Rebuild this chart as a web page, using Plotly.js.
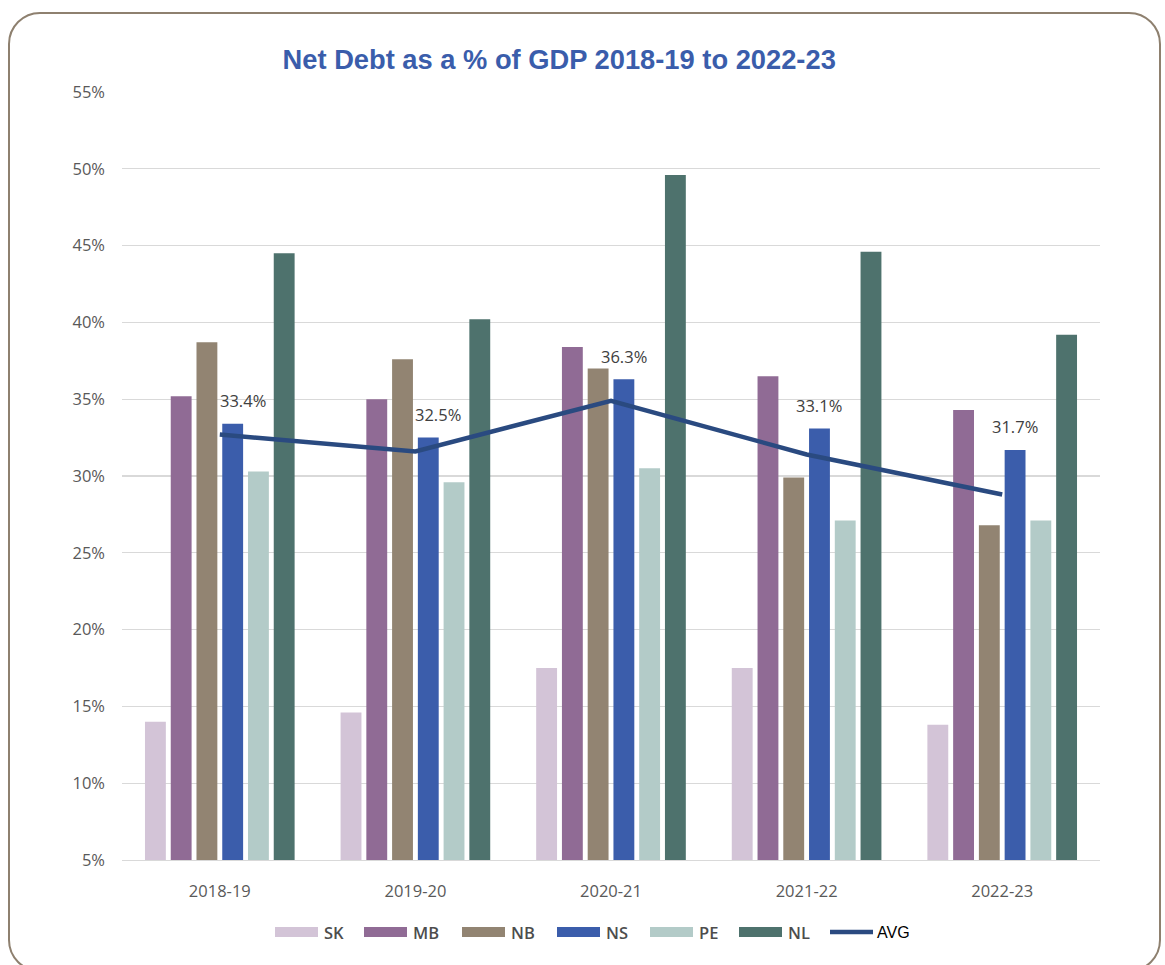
<!DOCTYPE html>
<html>
<head>
<meta charset="utf-8">
<script src="https://cdn.plot.ly/plotly-3.0.1.min.js"></script>
<style>
  html, body { margin: 0; padding: 0; background: #ffffff; }
  #wrap { position: relative; width: 1165px; height: 965px; overflow: hidden; }
  #chart { position: absolute; left: 0; top: 0; width: 1165px; height: 965px; }
  #frame {
    position: absolute; left: 8px; top: 12px; width: 1153px; height: 960px;
    border: 2px solid #8e806f; border-radius: 32px; box-sizing: border-box;
    pointer-events: none;
  }
</style>
</head>
<body>
<div id="wrap">
  <div id="chart"></div>
  <div id="frame"></div>
</div>
<script>
// Fiscal years
const categories = ['2018-19', '2019-20', '2020-21', '2021-22', '2022-23'];

// Net debt as % of GDP by province
const SK = [14.0, 14.6, 17.5, 17.5, 13.8];
const MB = [35.2, 35.0, 38.4, 36.5, 34.3];
const NB = [38.7, 37.6, 37.0, 29.9, 26.8];
const NS = [33.4, 32.5, 36.3, 33.1, 31.7];
const PE = [30.3, 29.6, 30.5, 27.1, 27.1];
const NL = [44.5, 40.2, 49.6, 44.6, 39.2];
const AVG = [32.7, 31.6, 34.9, 31.4, 28.8];

// Y-axis ticks
const yTicks = [5, 10, 15, 20, 25, 30, 35, 40, 45, 50, 55];

const provinces = [
  { name: 'SK', values: SK, color: '#d3c4d7' },
  { name: 'MB', values: MB, color: '#906b95' },
  { name: 'NB', values: NB, color: '#928472' },
  { name: 'NS', values: NS, color: '#3b5dab', labelled: true },
  { name: 'PE', values: PE, color: '#b3cbc8' },
  { name: 'NL', values: NL, color: '#4e726d' }
];
const avgColor = '#2a4a80';
const tickFont = { family: 'Open Sans, sans-serif', size: 16.5, color: '#595959' };

// Plot-area geometry (pixels)
const W = 1165, H = 965;
const M = { l: 122, r: 65, t: 92, b: 105 };
const plotW = W - M.l - M.r, plotH = H - M.t - M.b;
const px2x = px => (px - M.l) / plotW;
const py2y = py => (H - M.b - py) / plotH;
const BARGAP = 0.21, GROUPGAP = 0.19;

// Sideways nudge (px) of the value labels, keeping the first two clear of the AVG line
const labelNudge = [10, 10, 0, 0, 0];

const traces = [];
provinces.forEach(p => {
  traces.push({
    type: 'bar',
    name: p.name,
    x: categories,
    y: p.values,
    marker: { color: p.color, line: { width: 0 } },
    hoverinfo: 'x+y+name'
  });
});

traces.push({
  type: 'scatter',
  mode: 'lines',
  name: 'AVG',
  x: categories,
  y: AVG,
  line: { color: avgColor, width: 4.5 }
});

const shapes = [];
const annotations = [];

// Value labels above the NS bars, shifted sideways to that bar's slot in the group
const slotPx = plotW / categories.length * (1 - BARGAP) / provinces.length;
provinces.forEach((p, idx) => {
  if (!p.labelled) return;
  const offset = (idx - (provinces.length - 1) / 2) * slotPx;
  p.values.forEach((v, i) => {
    annotations.push({
      xref: 'x', yref: 'y', x: categories[i], y: v,
      xanchor: 'center', yanchor: 'middle',
      xshift: offset + labelNudge[i], yshift: 23,
      showarrow: false, text: v.toFixed(1) + '%',
      font: { family: 'Open Sans, sans-serif', size: 16.5, color: '#404040' }
    });
  });
});

// Legend row: wide colour keys followed by their names
const legendKeys = provinces.map(p => ({ name: p.name, color: p.color, kind: 'bar' }))
  .concat([{ name: 'AVG', color: avgColor, kind: 'line' }]);
const keyStarts = [275, 364, 462, 557, 650, 739, 828];
const keyW = 43, keyH = 10, legendMid = 932;

legendKeys.forEach((k, i) => {
  const x0 = keyStarts[i], x1 = x0 + keyW;
  if (k.kind === 'bar') {
    shapes.push({
      type: 'rect', xref: 'paper', yref: 'paper',
      x0: px2x(x0), x1: px2x(x1),
      y0: py2y(legendMid + keyH / 2), y1: py2y(legendMid - keyH / 2),
      fillcolor: k.color, line: { width: 0 }
    });
    annotations.push({
      xref: 'paper', yref: 'paper', x: px2x(x1 + 4), y: py2y(legendMid),
      xanchor: 'left', yanchor: 'middle', showarrow: false, text: k.name,
      font: { family: 'Open Sans, sans-serif', size: 16.5, color: '#4d4d4d', weight: 600 }
    });
  } else {
    shapes.push({
      type: 'line', xref: 'paper', yref: 'paper',
      x0: px2x(x0 + 2), x1: px2x(x1 + 2),
      y0: py2y(legendMid), y1: py2y(legendMid),
      line: { color: k.color, width: 4.5 }
    });
    annotations.push({
      xref: 'paper', yref: 'paper', x: px2x(x1 + 4), y: py2y(legendMid),
      xanchor: 'left', yanchor: 'middle', showarrow: false, text: k.name,
      font: { family: 'Liberation Sans, Arial, sans-serif', size: 16, color: '#000000' }
    });
  }
});

const layout = {
  width: W,
  height: H,
  margin: M,
  paper_bgcolor: '#ffffff',
  plot_bgcolor: '#ffffff',
  title: {
    text: 'Net Debt as a % of GDP 2018-19 to 2022-23',
    font: { family: 'Liberation Sans, Arial, sans-serif', size: 27.3, color: '#3a5dab', weight: 'bold' },
    xref: 'container', yref: 'container',
    x: 0.48, y: 0.938, xanchor: 'center', yanchor: 'middle'
  },
  barmode: 'group',
  bargap: BARGAP,
  bargroupgap: GROUPGAP,
  xaxis: {
    type: 'category',
    range: [-0.5, 4.5],
    showgrid: false,
    showline: true,
    linecolor: '#d9d9d9',
    linewidth: 1.3,
    ticks: '',
    tickfont: tickFont,
    ticklabelstandoff: 16,
    fixedrange: true
  },
  yaxis: {
    range: [5, 55],
    tickvals: yTicks,
    ticktext: yTicks.map(v => v + '%'),
    showgrid: true,
    gridcolor: '#d9d9d9',
    gridwidth: 1.3,
    zeroline: false,
    showline: false,
    ticks: '',
    tickfont: tickFont,
    ticklabelstandoff: 16,
    fixedrange: true
  },
  showlegend: false,
  shapes: shapes,
  annotations: annotations
};

Plotly.newPlot('chart', traces, layout, { displayModeBar: false, staticPlot: true });
</script>
</body>
</html>
